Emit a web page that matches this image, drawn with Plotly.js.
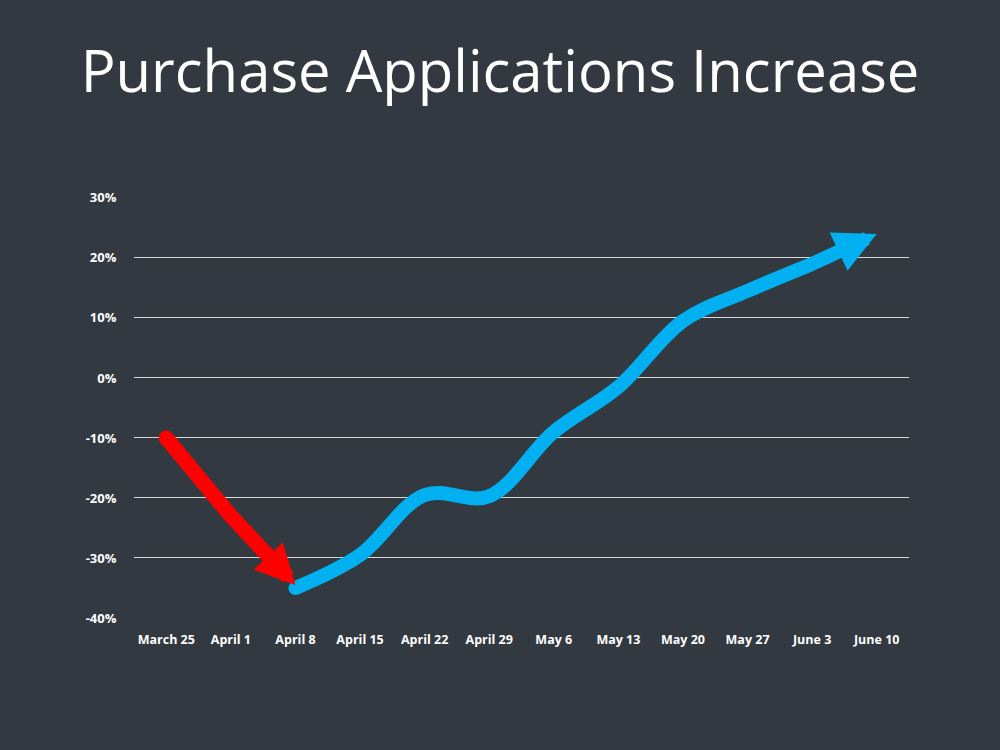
<!DOCTYPE html>
<html>
<head>
<meta charset="utf-8">
<script src="https://cdn.plot.ly/plotly-3.0.1.min.js"></script>
<style>html,body{margin:0;padding:0;background:#323940;}#chart{width:1000px;height:750px;}</style>
</head>
<body>
<div id="chart"></div>
<script>
const weeks = ['March 25','April 1','April 8','April 15','April 22','April 29','May 6','May 13','May 20','May 27','June 3','June 10'];
const declineWeeks = ['March 25','April 1','April 8'];
const declineValues = [-10, -23, -34.5];
const recoveryWeeks = ['April 8','April 15','April 22','April 29','May 6','May 13','May 20','May 27','June 3','June 10'];
const recoveryValues = [-35, -29.5, -19.5, -19.7, -9, -1.5, 9.5, 14.5, 19, 24];
const yTicks = [-40, -30, -20, -10, 0, 10, 20, 30];
const yTickText = yTicks.map(v => v + '%');

// smooth body up to the second-last point (with round caps)
function bodyTraces(xs, ys, color, width) {
  const n = xs.length;
  return [
    {x: xs.slice(0, n - 1), y: ys.slice(0, n - 1), type: 'scatter', mode: 'lines',
      line: {color: color, width: width, shape: 'spline'}, hoverinfo: 'skip'},
    {x: [xs[0], xs[n - 2]], y: [ys[0], ys[n - 2]], type: 'scatter', mode: 'markers',
      marker: {color: color, symbol: 'circle', size: width, opacity: 1, line: {width: 0}}, hoverinfo: 'skip'}
  ];
}
// final stretch with arrowhead, drawn by the library from the last two data points
function headAnnotation(xs, ys, color, width, size) {
  const n = xs.length;
  return {
    x: weeks.indexOf(xs[n - 1]), y: ys[n - 1], xref: 'x', yref: 'y',
    ax: weeks.indexOf(xs[n - 2]), ay: ys[n - 2], axref: 'x', ayref: 'y',
    text: '', showarrow: true, arrowhead: 2, arrowsize: size, arrowwidth: width,
    arrowcolor: color, standoff: 0
  };
}

const red = '#ff0000', blue = '#00b0f0';
const traces = [].concat(
  bodyTraces(declineWeeks, declineValues, red, 15),
  bodyTraces(recoveryWeeks, recoveryValues, blue, 14)
);

const layout = {
  width: 1000, height: 750,
  paper_bgcolor: '#323940', plot_bgcolor: '#323940',
  showlegend: false,
  margin: {l: 134, r: 91, t: 197, b: 132},
  title: {
    text: 'Purchase Applications Increase',
    font: {family: 'Open Sans, sans-serif', size: 58, color: '#ffffff'},
    x: 0.5, xanchor: 'center', y: 0.905, yanchor: 'middle'
  },
  xaxis: {
    type: 'category', categoryorder: 'array', categoryarray: weeks,
    range: [-0.5, weeks.length - 0.5],
    showgrid: false, zeroline: false, showline: false,
    ticks: 'outside', ticklen: 10, tickcolor: 'rgba(0,0,0,0)',
    tickfont: {family: 'Open Sans, sans-serif', size: 12.5, color: '#ffffff', weight: 'bold'},
    automargin: false, fixedrange: true
  },
  yaxis: {
    range: [-40, 30.15], tickvals: yTicks, ticktext: yTickText,
    showgrid: true, gridcolor: '#d9d9d9', gridwidth: 1,
    zeroline: false, showline: false,
    ticks: 'outside', ticklen: 14, tickcolor: 'rgba(0,0,0,0)',
    tickfont: {family: 'Open Sans, sans-serif', size: 13, color: '#ffffff', weight: 'bold'},
    automargin: false, fixedrange: true
  },
  annotations: [
    headAnnotation(declineWeeks, declineValues, red, 15, 0.53),
    headAnnotation(recoveryWeeks, recoveryValues, blue, 14, 0.6)
  ]
};

Plotly.newPlot('chart', traces, layout, {displayModeBar: false, staticPlot: true});
</script>
</body>
</html>
